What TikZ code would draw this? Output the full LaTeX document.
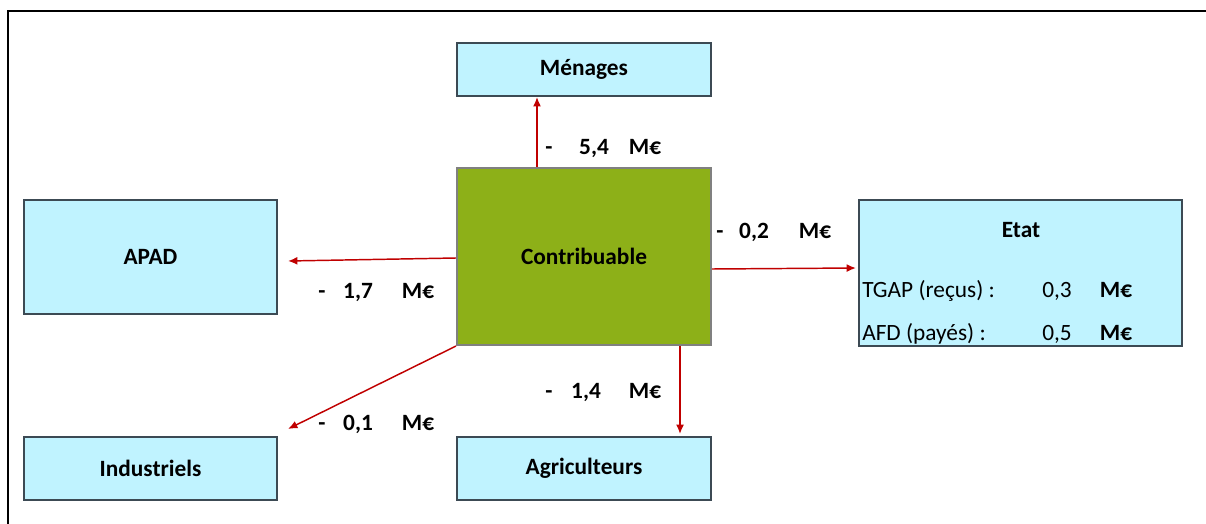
\documentclass[tikz,border=0pt]{standalone}
\usepackage{fontspec}
\setmainfont{Carlito}
\usetikzlibrary{arrows.meta}
\definecolor{boxfill}{RGB}{192,243,255}
\definecolor{boxline}{RGB}{60,74,84}
\definecolor{contribfill}{RGB}{141,176,24}
\definecolor{contribline}{RGB}{128,128,128}
\definecolor{arrred}{RGB}{192,0,0}
\tikzset{
  box/.style={draw=boxline, fill=boxfill, line width=1.6pt, inner sep=0pt, font=\fontsize{17.5}{21}\selectfont\bfseries},
  cbox/.style={draw=contribline, fill=contribfill, line width=1.6pt, inner sep=0pt, font=\fontsize{17.5}{21}\selectfont\bfseries},
  arr/.style={draw=arrred, line width=1.1pt, -{Latex[length=7pt,width=6pt]}},
  lbl/.style={inner sep=0pt, anchor=base, font=\fontsize{17.5}{21}\selectfont\bfseries},
  txt/.style={inner sep=0pt, anchor=base, font=\fontsize{17.5}{21}\selectfont},
}
\begin{document}
\begin{tikzpicture}[x=0.75pt, y=-0.75pt]
\useasboundingbox (0,0) rectangle (1206,524);
% outer frame
\draw[line width=1.6pt] (8,524) -- (8,11) -- (1206,11);
% boxes
\node[box, minimum width=254*0.75pt, minimum height=53*0.75pt] (menages) at (584,69.5) {Ménages};
\node[cbox, minimum width=254*0.75pt, minimum height=177*0.75pt] (contrib) at (584,256.5) {Contribuable};
\node[box, minimum width=253*0.75pt, minimum height=114*0.75pt] (apad) at (150.5,257) {APAD};
\node[box, minimum width=323*0.75pt, minimum height=146*0.75pt] (etat) at (1020.5,273) {};
\node[box, minimum width=253*0.75pt, minimum height=63*0.75pt] (indus) at (150.5,468.5) {Industriels};
\node[box, minimum width=254*0.75pt, minimum height=63*0.75pt] (agri) at (584,468.5) {Agriculteurs};
% Etat contents
\node[lbl] (etatt) at (1021,237) {Etat};
\node[txt, anchor=base west] (tgap) at (862,297) {TGAP (reçus) :};
\node[txt] (tgapv) at (1057,297) {0,3};
\node[lbl] (tgapu) at (1116,297) {M€};
\node[txt, anchor=base west] (afd) at (862,340) {AFD (payés) :};
\node[txt] (afdv) at (1057,340) {0,5};
\node[lbl] (afdu) at (1116,340) {M€};
% arrow end points
\coordinate (mA) at ([xshift=-47*0.75pt]contrib.north);
\coordinate (mB) at ([xshift=-47*0.75pt]menages.south);
\coordinate (aA) at ([yshift=-1.5*0.75pt]contrib.west);
\coordinate (aB) at ([xshift=10*0.75pt, yshift=-4*0.75pt]apad.east);
\coordinate (eA) at ([yshift=-12.5*0.75pt]contrib.east);
\coordinate (eB) at ([xshift=-2*0.75pt, yshift=5*0.75pt]etat.west);
\coordinate (iB) at ([xshift=10*0.75pt, yshift=7*0.75pt]indus.north east);
\coordinate (gA) at ([xshift=96*0.75pt]contrib.south);
\coordinate (gB) at ([xshift=96*0.75pt, yshift=2*0.75pt]agri.north);
\draw[arr] (mA) -- (mB);
\draw[arr] (aA) -- (aB);
\draw[arr] (eA) -- (eB);
\draw[arr] (contrib.south west) -- (iB);
\draw[arr] (gA) -- (gB);
% flow labels
\node[lbl] (d1) at (549,155) {-};
\node[lbl] (v1) at (594,155) {5,4};
\node[lbl] (u1) at (645,155) {M€};
\node[lbl] (d2) at (720,238) {-};
\node[lbl] (v2) at (754,238) {0,2};
\node[lbl] (u2) at (815,238) {M€};
\node[lbl] (d3) at (322,298) {-};
\node[lbl] (v3) at (358,298) {1,7};
\node[lbl] (u3) at (418,298) {M€};
\node[lbl] (d4) at (322,430) {-};
\node[lbl] (v4) at (358,430) {0,1};
\node[lbl] (u4) at (418,430) {M€};
\node[lbl] (d5) at (549,398) {-};
\node[lbl] (v5) at (586,398) {1,4};
\node[lbl] (u5) at (645,398) {M€};
\end{tikzpicture}
\end{document}
